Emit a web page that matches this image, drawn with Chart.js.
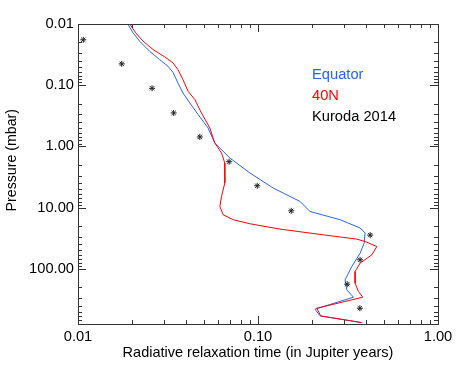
<!DOCTYPE html>
<html>
<head>
<meta charset="utf-8">
<script src="https://cdn.jsdelivr.net/npm/chart.js@4"></script>
<style>
    body { margin: 0; background: #fff; }
    canvas { display: block; }
</style>
</head>
<body>
<canvas id="relaxChart" width="457" height="374"></canvas>
<script>
// radiative relaxation time (Jupiter years) vs pressure (mbar)
const equatorTime = [0.0189, 0.0202, 0.0220, 0.0250, 0.0284, 0.0316, 0.0337, 0.0359, 0.0383, 0.0418, 0.0465, 0.0528, 0.0575, 0.0698, 0.0901, 0.1215, 0.1712, 0.1945, 0.2858, 0.3694, 0.3937, 0.3887, 0.3694, 0.332, 0.3047, 0.3114, 0.3389, 0.2074, 0.2212, 0.377]
const equatorPressure = [0.01, 0.0139, 0.0191, 0.0279, 0.0381, 0.049, 0.0615, 0.0917, 0.134, 0.195, 0.303, 0.5, 0.88, 1.55, 2.72, 4.8, 7.95, 11.6, 15.8, 21.6, 26.1, 38.1, 55.6, 92, 152, 221, 292, 458, 590, 759]

const north40Time = [0.0194, 0.0209, 0.0230, 0.0261, 0.0303, 0.0337, 0.0359, 0.0383, 0.0409, 0.0446, 0.0485, 0.054, 0.0575, 0.0627, 0.0654, 0.0654, 0.0627, 0.0614, 0.064, 0.0728, 0.0901, 0.1324, 0.2307, 0.354, 0.3937, 0.4574, 0.429, 0.3694, 0.3464, 0.3464, 0.3613, 0.3823, 0.2121, 0.2232, 0.377]
const north40Pressure = [0.01, 0.0139, 0.0191, 0.0261, 0.0344, 0.0432, 0.0556, 0.081, 0.126, 0.172, 0.284, 0.5, 0.88, 1.28, 1.87, 3.97, 6.58, 9.59, 13.1, 15.8, 18.4, 22.5, 27.9, 32.8, 35.9, 43.3, 59.2, 80.9, 111, 172, 236, 292, 442, 590, 759]

const kurodaTime = [0.0107, 0.0175, 0.0258, 0.034, 0.0475, 0.0691, 0.099, 0.153, 0.42, 0.369, 0.313, 0.368]
const kurodaPressure = [0.0181, 0.0448, 0.1125, 0.284, 0.701, 1.78, 4.4, 11.3, 28.2, 71.4, 179, 442]

const xTicks = [0.01, 0.1, 1]
const yTicks = [0.01, 0.1, 1, 10, 100]
const xRange = [0.01, 1]
const yRange = [0.01, 800]

const fontFamily = '"Liberation Sans", Arial, sans-serif'

function toPoints(xs, ys) {
    return xs.map((v, i) => ({ x: v, y: ys[i] }))
}

// minor + major tick values for a log axis
function logTickValues(range) {
    let vals = []
    for (let d = -3; d <= 4; d++) {
        for (let m = 1; m <= 9; m++) {
            let v = m * Math.pow(10, d)
            if (v >= range[0] * 0.999 && v <= range[1] * 1.001) {
                vals.push({ v: v, major: m === 1 })
            }
        }
    }
    return vals
}

// IDL style box with ticks pointing inward
const boxTicks = {
    id: 'boxTicks',
    afterDraw(chart) {
        const ctx = chart.ctx
        const a = chart.chartArea
        const xs = chart.scales.x
        const ys = chart.scales.y
        ctx.save()
        ctx.strokeStyle = '#333'
        ctx.lineWidth = 1
        ctx.strokeRect(Math.round(a.left) + 0.5, Math.round(a.top) + 0.5,
            Math.round(a.right - a.left), Math.round(a.bottom - a.top))
        ctx.beginPath()
        logTickValues(xRange).forEach(t => {
            let px = Math.round(xs.getPixelForValue(t.v)) + 0.5
            let len = t.major ? 8 : 4
            ctx.moveTo(px, a.bottom)
            ctx.lineTo(px, a.bottom - len)
            ctx.moveTo(px, a.top)
            ctx.lineTo(px, a.top + len)
        })
        logTickValues(yRange).forEach(t => {
            let py = Math.round(ys.getPixelForValue(t.v)) + 0.5
            let len = t.major ? 8 : 4
            ctx.moveTo(a.left, py)
            ctx.lineTo(a.left + len, py)
            ctx.moveTo(a.right, py)
            ctx.lineTo(a.right - len, py)
        })
        ctx.stroke()
        ctx.restore()
    }
}

// text-only legend inside the plot
const textLegend = {
    id: 'textLegend',
    afterDraw(chart) {
        const ctx = chart.ctx
        const a = chart.chartArea
        const order = [1, 0, 2]
        ctx.save()
        ctx.font = '14.7px ' + fontFamily
        ctx.textBaseline = 'middle'
        ctx.textAlign = 'left'
        order.forEach((idx, i) => {
            let ds = chart.data.datasets[idx]
            ctx.fillStyle = ds.legendColor
            ctx.fillText(ds.label, a.left + 234, a.top + 51 + i * 21)
        })
        ctx.restore()
    }
}

const relaxData = {
    datasets: [{
        label: '40N',
        data: toPoints(north40Time, north40Pressure),
        showLine: true,
        borderColor: 'rgb(255, 0, 0)',
        legendColor: 'rgb(255, 0, 0)',
        borderWidth: 1,
        pointRadius: 0,
        tension: 0,
        order: 1
    }, {
        label: 'Equator',
        data: toPoints(equatorTime, equatorPressure),
        showLine: true,
        borderColor: 'rgb(35, 100, 255)',
        legendColor: 'rgb(35, 100, 255)',
        borderWidth: 1,
        pointRadius: 0,
        tension: 0,
        order: 2
    }, {
        label: 'Kuroda 2014',
        data: toPoints(kurodaTime, kurodaPressure),
        showLine: false,
        pointStyle: 'star',
        pointRadius: 3,
        borderColor: '#222',
        backgroundColor: '#222',
        legendColor: '#000',
        borderWidth: 1,
        order: 0
    }]
}

const relaxConfig = {
    type: 'scatter',
    data: relaxData,
    options: {
        responsive: false,
        animation: false,
        devicePixelRatio: 1,
        layout: {
            padding: { top: 24, right: 19, left: 0, bottom: 0 }
        },
        plugins: {
            legend: { display: false },
            tooltip: { enabled: false }
        },
        scales: {
            x: {
                type: 'logarithmic',
                position: 'bottom',
                min: xRange[0],
                max: xRange[1],
                grid: { display: false, drawTicks: false },
                border: { display: false },
                afterBuildTicks: s => { s.ticks = xTicks.map(v => ({ value: v })) },
                afterFit: s => { s.height = 50 },
                ticks: {
                    autoSkip: false,
                    maxRotation: 0,
                    padding: 4,
                    color: '#000',
                    font: { family: fontFamily, size: 14.7 },
                    callback: v => v.toFixed(2)
                },
                title: {
                    display: true,
                    text: 'Radiative relaxation time (in Jupiter years)',
                    color: '#000',
                    font: { family: fontFamily, size: 14.5 },
                    padding: { top: 0, bottom: 12 }
                }
            },
            y: {
                type: 'logarithmic',
                position: 'left',
                reverse: true,
                min: yRange[0],
                max: yRange[1],
                grid: { display: false, drawTicks: false },
                border: { display: false },
                afterBuildTicks: s => { s.ticks = yTicks.map(v => ({ value: v })) },
                afterFit: s => { s.width = 78 },
                ticks: {
                    autoSkip: false,
                    padding: 4,
                    color: '#000',
                    font: { family: fontFamily, size: 14.7 },
                    callback: v => v.toFixed(2)
                },
                title: {
                    display: true,
                    text: '       Pressure (mbar)',
                    color: '#000',
                    font: { family: fontFamily, size: 14.2 },
                    padding: { top: 4, bottom: 0 }
                }
            }
        }
    },
    plugins: [boxTicks, textLegend]
}

const relaxChart = new Chart(
    document.getElementById('relaxChart'),
    relaxConfig
)
</script>
</body>
</html>
